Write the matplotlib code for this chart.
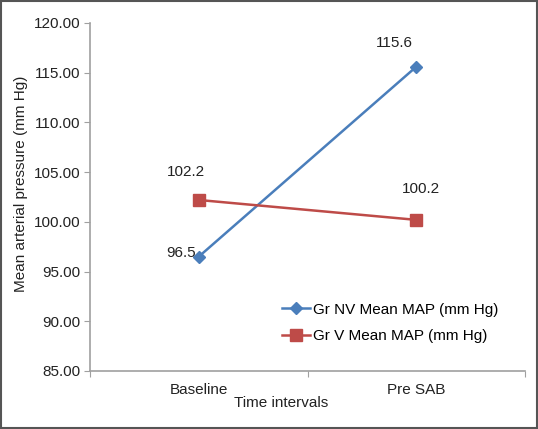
import matplotlib.pyplot as plt

plt.rcParams['font.family'] = ['Liberation Sans', 'DejaVu Sans']

# data
categories = ['Baseline', 'Pre SAB']
gr_nv = [96.5, 115.6]
gr_v = [102.2, 100.2]
series_names = ['Gr NV Mean MAP (mm Hg)', 'Gr V Mean MAP (mm Hg)']
yticks = [85, 90, 95, 100, 105, 110, 115, 120]

blue = '#4a7ebb'
red = '#be4b48'
grey = '#a0a0a0'
txt = '#222222'

fig = plt.figure(figsize=(5.38, 4.29), dpi=100)
ax = fig.add_axes([90 / 538, 1 - 371 / 429, 435 / 538, 348 / 429])

# border round the whole figure
fig.patches.append(plt.Rectangle((0.002, 0.002), 0.996, 0.995, transform=fig.transFigure,
                                 fill=False, edgecolor='#555555', linewidth=1.5))

x = range(len(categories))
ax.plot(x, gr_nv, color=blue, linewidth=1.8, marker='D', markersize=6.5, label=series_names[0])
ax.plot(x, gr_v, color=red, linewidth=1.8, marker='s', markersize=8, label=series_names[1])

# data labels (offsets in points)
ax.annotate(f'{gr_nv[0]}', (0, gr_nv[0]), xytext=(-13, 2.5), textcoords='offset points',
            ha='center', va='center', fontsize=11, color=txt)
ax.annotate(f'{gr_nv[1]}', (1, gr_nv[1]), xytext=(-16, 17), textcoords='offset points',
            ha='center', va='center', fontsize=11, color=txt)
ax.annotate(f'{gr_v[0]}', (0, gr_v[0]), xytext=(-9.5, 20), textcoords='offset points',
            ha='center', va='center', fontsize=11, color=txt)
ax.annotate(f'{gr_v[1]}', (1, gr_v[1]), xytext=(3.5, 22), textcoords='offset points',
            ha='center', va='center', fontsize=11, color=txt)

ax.set_xlim(-0.5, 1.5)
ax.set_ylim(85, 120)
ax.set_yticks(yticks)
ax.set_yticklabels([f'{v:.2f}' for v in yticks], fontsize=11, color=txt)
ax.set_xticks([-0.5, 0.5, 1.5])
ax.set_xticklabels([])
ax.set_xticks(list(x), minor=True)
ax.set_xticklabels(categories, minor=True, fontsize=11, color=txt)
ax.tick_params(axis='x', which='minor', length=0, pad=9)
ax.tick_params(axis='x', which='major', length=4, color=grey, direction='out')
ax.tick_params(axis='y', length=4, color=grey, direction='out', pad=3)

for s in ['top', 'right']:
    ax.spines[s].set_visible(False)
for s in ['left', 'bottom']:
    ax.spines[s].set_color(grey)
    ax.spines[s].set_linewidth(1.2)

fig.text(21 / 538, 1 - 184 / 429, 'Mean arterial pressure (mm Hg)', rotation=90,
         ha='center', va='center', fontsize=11, color=txt)
fig.text(281 / 538, 1 - 403 / 429, 'Time intervals', ha='center', va='center',
         fontsize=11, color=txt)

ax.legend(loc='upper left', bbox_to_anchor=(0.441, 0.196), frameon=False, fontsize=11,
          handlelength=1.85, handletextpad=0.2, labelspacing=0.8, borderaxespad=0,
          borderpad=0)

fig.savefig('out.png', dpi=100)
